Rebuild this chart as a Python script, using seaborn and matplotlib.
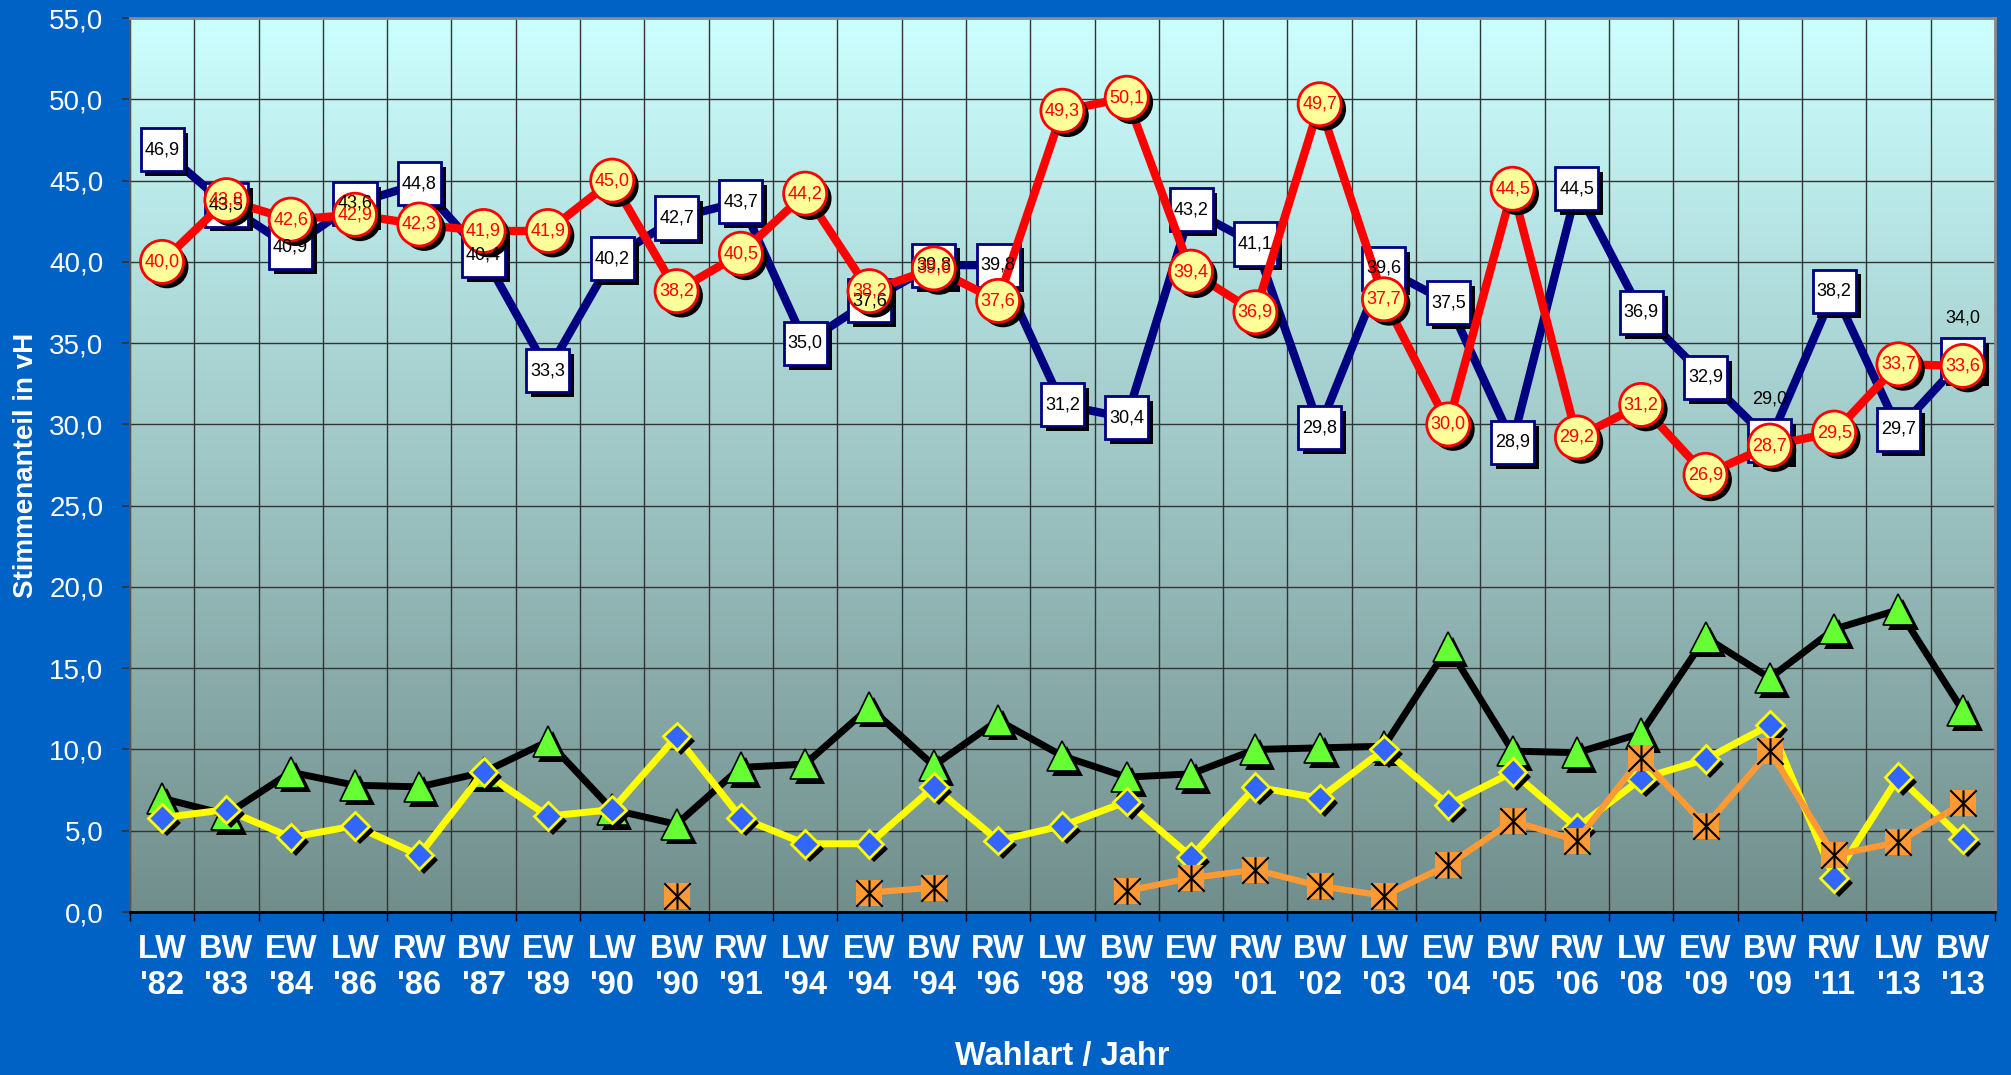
import numpy as np
import pandas as pd
import matplotlib
matplotlib.use('Agg')
import matplotlib.pyplot as plt
import matplotlib.patheffects as pe
from matplotlib.colors import LinearSegmentedColormap
from matplotlib.path import Path
import seaborn as sns

# ---------------------------------------------------------
# Daten: Wahlart / Jahr und Stimmenanteile in vH
# ---------------------------------------------------------
wahlart = ['LW', 'BW', 'EW', 'LW', 'RW', 'BW', 'EW', 'LW', 'BW', 'RW',
           'LW', 'EW', 'BW', 'RW', 'LW', 'BW', 'EW', 'RW', 'BW', 'LW',
           'EW', 'BW', 'RW', 'LW', 'EW', 'BW', 'RW', 'LW', 'BW']
jahr = ["'82", "'83", "'84", "'86", "'86", "'87", "'89", "'90", "'90", "'91",
        "'94", "'94", "'94", "'96", "'98", "'98", "'99", "'01", "'02", "'03",
        "'04", "'05", "'06", "'08", "'09", "'09", "'11", "'13", "'13"]

anteil_blau = [46.9, 43.5, 40.9, 43.6, 44.8, 40.4, 33.3, 40.2, 42.7, 43.7,
               35.0, 37.6, 39.8, 39.8, 31.2, 30.4, 43.2, 41.1, 29.8, 39.6,
               37.5, 28.9, 44.5, 36.9, 32.9, 29.0, 38.2, 29.7, 34.0]
anteil_rot = [40.0, 43.8, 42.6, 42.9, 42.3, 41.9, 41.9, 45.0, 38.2, 40.5,
              44.2, 38.2, 39.6, 37.6, 49.3, 50.1, 39.4, 36.9, 49.7, 37.7,
              30.0, 44.5, 29.2, 31.2, 26.9, 28.7, 29.5, 33.7, 33.6]
anteil_gruen = [7.0, 6.0, 8.6, 7.8, 7.7, 8.6, 10.5, 6.3, 5.4, 8.9,
                9.1, 12.6, 9.0, 11.8, 9.6, 8.3, 8.5, 10.0, 10.1, 10.2,
                16.3, 9.9, 9.8, 11.0, 16.9, 14.4, 17.4, 18.6, 12.4]
anteil_gelb = [5.8, 6.3, 4.6, 5.3, 3.5, 8.6, 5.9, 6.3, 10.8, 5.8,
               4.2, 4.2, 7.7, 4.4, 5.3, 6.8, 3.4, 7.7, 7.0, 10.0,
               6.6, 8.6, 5.2, 8.2, 9.4, 11.5, 2.1, 8.3, 4.5]
anteil_orange = [np.nan] * 8 + [1.0, np.nan, np.nan, 1.2, 1.5, np.nan, np.nan,
                                1.3, 2.1, 2.6, 1.6, 1.0, 2.9, 5.6, 4.4, 9.5,
                                5.3, 9.9, 3.5, 4.3, 6.7]

# Beschriftungen, die oberhalb des Markers stehen
label_oben = {25, 28}

# ---------------------------------------------------------
# Figur und Achse
# ---------------------------------------------------------
plt.rcParams['font.family'] = ['Liberation Sans', 'DejaVu Sans']

fig = plt.figure(figsize=(20.11, 10.75), dpi=100, facecolor='#0062C4')
ax = fig.add_axes([0.0646, 0.1516, 0.9274, 0.8316])
pos = np.arange(len(wahlart))

# Hintergrund-Verlauf im Plotbereich
verlauf = LinearSegmentedColormap.from_list('bg', ['#718E8C', '#CCFFFF'])
ax.imshow(np.linspace(0, 1, 256).reshape(-1, 1), cmap=verlauf, origin='lower',
          extent=[0, 1, 0, 1], transform=ax.transAxes, aspect='auto', zorder=0)

schatten = [pe.SimplePatchShadow(offset=(3.5, -3.5), shadow_rgbFace='black',
                                 alpha=1.0, foreground='black'), pe.Normal()]

# ---------------------------------------------------------
# Linien (seaborn) und Marker
# ---------------------------------------------------------
# schwarz / gruen
sns.lineplot(x=pos, y=anteil_gruen, ax=ax, color='black', lw=5, zorder=3, legend=False)
ax.plot(pos, anteil_gruen, ls='none', marker='^', ms=22, mfc='#66FF33', mec='black',
        mew=1.2, zorder=4, path_effects=schatten)

# gelb / blaue Rauten
sns.lineplot(x=pos, y=anteil_gelb, ax=ax, color='#FFFF00', lw=5, zorder=5, legend=False)
ax.plot(pos, anteil_gelb, ls='none', marker='D', ms=14, mfc='#3366FF', mec='#FFFF00',
        mew=2, zorder=6, path_effects=schatten)

# orange, nur zusammenhaengende Abschnitte verbinden
df_or = pd.DataFrame({'pos': pos, 'wert': anteil_orange})
df_or['abschnitt'] = df_or['wert'].isna().cumsum()
df_or = df_or.dropna()
sns.lineplot(data=df_or, x='pos', y='wert', units='abschnitt', estimator=None, ax=ax,
             color='#FF9933', lw=4.5, zorder=7, legend=False)
stern = Path([(-1, -1), (1, 1), (-1, 1), (1, -1), (0, -1), (0, 1)],
             [Path.MOVETO, Path.LINETO] * 3)
ax.plot(pos, anteil_orange, ls='none', marker='s', ms=19, mfc='#FF9933', mew=0, zorder=8)
ax.plot(pos, anteil_orange, ls='none', marker=stern, ms=19, mfc='none', mec='black',
        mew=1.5, zorder=8)

# blau / Quadrate
sns.lineplot(x=pos, y=anteil_blau, ax=ax, color='#000080', lw=6, zorder=9, legend=False)
ax.plot(pos, anteil_blau, ls='none', marker='s', ms=31, mfc='white', mec='#000080',
        mew=2, zorder=10, path_effects=schatten)

# rot / Kreise
sns.lineplot(x=pos, y=anteil_rot, ax=ax, color='#FF0000', lw=6, zorder=11, legend=False)
ax.plot(pos, anteil_rot, ls='none', marker='o', ms=31, mfc='#FFFF99', mec='#FF0000',
        mew=2, zorder=12, path_effects=schatten)

# Datenbeschriftungen
for i, (b, r) in enumerate(zip(anteil_blau, anteil_rot)):
    dy = 30 if i in label_oben else 0
    ax.annotate(f"{b:.1f}".replace('.', ','), (i, b), xytext=(0, dy), textcoords='offset points',
                ha='center', va='center', fontsize=13, color='black', zorder=20)
    ax.annotate(f"{r:.1f}".replace('.', ','), (i, r), ha='center', va='center',
                fontsize=13, color='#FF0000', zorder=21)

# ---------------------------------------------------------
# Achsen, Gitter, Beschriftung
# ---------------------------------------------------------
ax.set_xlim(-0.5, len(pos) - 0.5)
ax.set_ylim(0, 55)
ax.set_xticks(pos)
ax.set_xticklabels([f"{w}\n{j}" for w, j in zip(wahlart, jahr)],
                   fontsize=23.5, fontweight='bold', color='white')
ax.set_xticks(np.arange(-0.5, len(pos)), minor=True)
ax.tick_params(axis='x', which='major', length=0, pad=16)
ax.tick_params(axis='x', which='minor', length=6.5, width=1, color='black', direction='out')

yticks = np.arange(0, 56, 5)
ax.set_yticks(yticks)
ax.set_yticklabels([f"{v:.1f}".replace('.', ',') for v in yticks], fontsize=20, color='white')
ax.tick_params(axis='y', length=6, width=1.2, color='#333333', pad=13)

ax.set_axisbelow(True)
ax.grid(which='minor', axis='x', color='#333333', lw=1)
ax.grid(which='major', axis='y', color='#333333', lw=1)
ax.grid(which='major', axis='x', visible=False)

for s in ['top', 'right']:
    ax.spines[s].set_color('#8A8A8A')
    ax.spines[s].set_linewidth(2)
ax.spines['left'].set_color('#555555')
ax.spines['left'].set_linewidth(1.5)
ax.spines['bottom'].set_color('black')
ax.spines['bottom'].set_linewidth(2)

ax.set_xlabel('Wahlart / Jahr', fontsize=23.5, fontweight='bold', color='white')
ax.xaxis.set_label_coords(0.5, -0.144)
ax.set_ylabel('Stimmenanteil in vH', fontsize=20, fontweight='bold', color='white')
ax.yaxis.set_label_coords(-0.049, 0.5)

fig.savefig('out.png', dpi=100, facecolor=fig.get_facecolor())
